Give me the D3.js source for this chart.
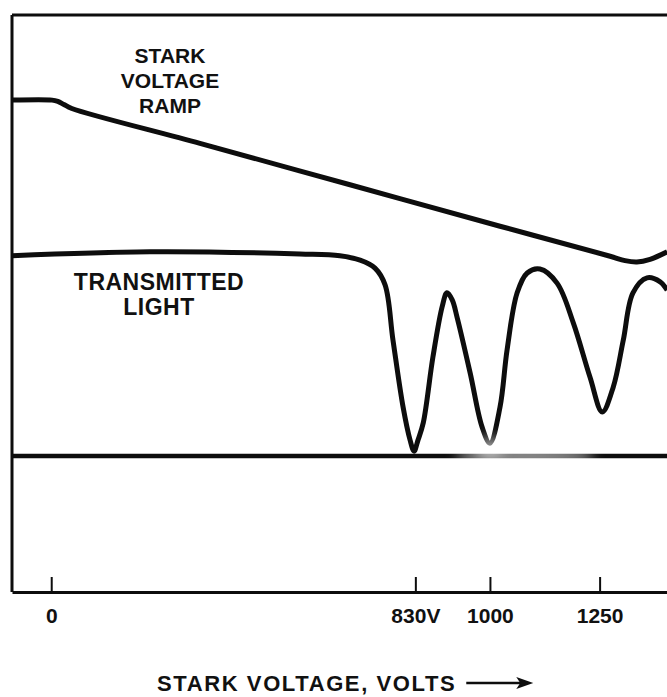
<!DOCTYPE html>
<html>
<head>
<meta charset="utf-8">
<script src="https://cdn.jsdelivr.net/npm/d3@7"></script>
<style>
  html, body { margin: 0; padding: 0; background: #fff; }
  svg { display: block; }
  text { font-family: "Liberation Sans", Arial, Helvetica, sans-serif; font-weight: bold; fill: #111; }
</style>
</head>
<body>
<div id="chart"></div>
<script>
// ---- data (volts on x, signal level in arbitrary units on y; 0 = zero transmission) ----
const tickVolts  = [0, 830, 1000, 1250];
const tickLabels = ["0", "830V", "1000", "1250"];

const rampVolts = [-89, 2, 15, 29, 47, 339, 681, 1023, 1274, 1308, 1335, 1365, 1404];
const rampLevel = [80.7, 80.7, 80.4, 79.7, 78.8, 70.9, 61.5, 52.1, 45.3, 44.3, 44.0, 44.6, 46.3];

const lightVolts = [-89, 225, 567, 658, 704, 738, 761, 779, 802, 818, 827, 836, 848, 870, 891, 902, 914, 925,
                    955, 982, 1000, 1023, 1039, 1062, 1085, 1114, 1153, 1190, 1228, 1256, 1281, 1304, 1326, 1358, 1388, 1404];
const lightLevel = [45.4, 46.3, 45.8, 45.4, 44.4, 42.6, 38.8, 26.3, 11.1, 3.6, 1.1, 3.6, 7.5, 22.4, 33.8, 37.0, 35.4, 31.5,
                    18.8, 6.6, 2.9, 11.1, 24.0, 37.0, 41.5, 42.4, 39.2, 30.2, 17.9, 10.0, 15.6, 26.3, 37.0, 40.4, 39.5, 37.6];

const rampLabel  = ["STARK", "VOLTAGE", "RAMP"];
const lightLabel = ["TRANSMITTED", "LIGHT"];
const axisTitle  = "STARK VOLTAGE, VOLTS";

// ---- layout ----
const W = 667, H = 697;
const svg = d3.select("#chart").append("svg").attr("width", W).attr("height", H);

const x = d3.scaleLinear().domain([-89.4, 1403.6]).range([12, 667]);
const y = d3.scaleLinear().domain([-30.84, 100]).range([592, 15]);

const ink = "#0d0d0d";

// soft blur used to mimic the faded part of the original print
const defs = svg.append("defs");
defs.append("filter").attr("id", "soft").attr("x", "-50%").attr("y", "-50%").attr("width", "200%").attr("height", "200%")
  .append("feGaussianBlur").attr("stdDeviation", 6);

// frame: top and left lines
svg.append("line").attr("x1", x(-89.4)).attr("x2", W).attr("y1", y(100)).attr("y2", y(100))
  .attr("stroke", ink).attr("stroke-width", 3);
svg.append("line").attr("x1", x(-89.4)).attr("x2", x(-89.4)).attr("y1", y(100)).attr("y2", y(-30.84))
  .attr("stroke", ink).attr("stroke-width", 3);

// zero-transmission baseline
svg.append("line").attr("x1", x(-89.4)).attr("x2", W).attr("y1", y(0)).attr("y2", y(0))
  .attr("stroke", ink).attr("stroke-width", 4.5);

// bottom axis
const axis = d3.axisBottom(x)
  .tickValues(tickVolts)
  .tickFormat((d, i) => tickLabels[i])
  .tickSizeInner(-15)
  .tickSizeOuter(0)
  .tickPadding(16);
const gAxis = svg.append("g").attr("transform", `translate(0,${y(-30.84)})`).call(axis);
gAxis.select(".domain").attr("stroke", ink).attr("stroke-width", 3);
gAxis.selectAll(".tick line").attr("stroke", ink).attr("stroke-width", 2);
gAxis.selectAll(".tick text").attr("font-size", 21).attr("font-family", "Liberation Sans, Arial, sans-serif")
  .attr("font-weight", "bold").attr("fill", ink);

// curves
const lineGen = d3.line().x(d => x(d[0])).y(d => y(d[1])).curve(d3.curveCatmullRom.alpha(0.5));
const rampData  = rampVolts.map((v, i) => [v, rampLevel[i]]);
const lightData = lightVolts.map((v, i) => [v, lightLevel[i]]);

svg.append("path").datum(rampData).attr("d", lineGen)
  .attr("fill", "none").attr("stroke", ink).attr("stroke-width", 5).attr("stroke-linejoin", "round");
svg.append("path").datum(lightData).attr("d", lineGen)
  .attr("fill", "none").attr("stroke", ink).attr("stroke-width", 5).attr("stroke-linejoin", "round");

// faded print near the 1000 V dip
svg.append("ellipse").attr("cx", x(1080)).attr("cy", y(0)).attr("rx", 70).attr("ry", 9)
  .attr("fill", "#fff").attr("opacity", 0.55).attr("filter", "url(#soft)");
svg.append("ellipse").attr("cx", x(1000)).attr("cy", y(2)).attr("rx", 14).attr("ry", 12)
  .attr("fill", "#fff").attr("opacity", 0.45).attr("filter", "url(#soft)");

// labels
svg.append("text").attr("text-anchor", "middle").attr("font-size", 21)
  .selectAll("tspan").data(rampLabel).join("tspan")
  .attr("x", 170).attr("y", (d, i) => 63 + i * 25).text(d => d);

svg.append("text").attr("text-anchor", "middle").attr("font-size", 23).attr("letter-spacing", 0.5)
  .selectAll("tspan").data(lightLabel).join("tspan")
  .attr("x", 159).attr("y", (d, i) => 290 + i * 25).text(d => d);

// axis title with arrow
const title = svg.append("text").attr("x", 157).attr("y", 691).attr("font-size", 22)
  .attr("letter-spacing", 1.6).text(axisTitle);
const tb = title.node().getBBox();
const ax0 = tb.x + tb.width + 10, ay = 683;
svg.append("line").attr("x1", ax0).attr("x2", ax0 + 55).attr("y1", ay).attr("y2", ay)
  .attr("stroke", ink).attr("stroke-width", 2.5);
svg.append("path")
  .attr("d", `M${ax0 + 50},${ay - 6} L${ax0 + 67},${ay} L${ax0 + 50},${ay + 6} L${ax0 + 54},${ay} Z`)
  .attr("fill", ink);
</script>
</body>
</html>
